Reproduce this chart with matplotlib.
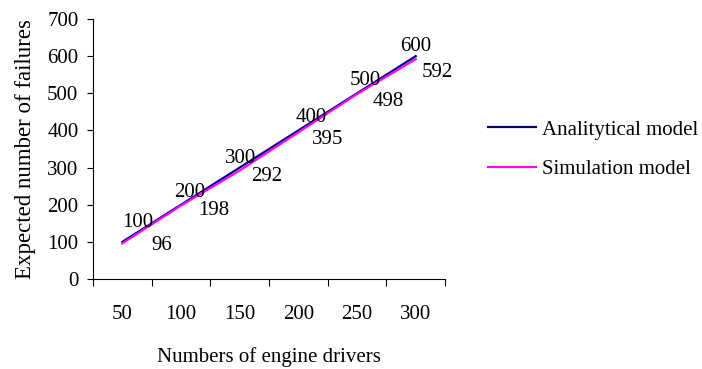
import matplotlib
matplotlib.use("Agg")
from matplotlib import pyplot as plt

# data
drivers = ["50", "100", "150", "200", "250", "300"]
analytical = [100, 200, 300, 400, 500, 600]
simulation = [96, 198, 292, 395, 498, 592]

# hand-placed label offsets (pixels) as in the original
analytical_offsets = [(15, 19), (9, 12), (1, 9), (13, 13), (8, 13), (0, 10)]
simulation_offsets = [(39, -2), (33, -5), (27, -6), (29, -7), (31, -7), (22, -13)]

plt.rcParams["font.family"] = ["Liberation Serif", "DejaVu Serif"]
plt.rcParams["font.size"] = 15

fig = plt.figure(figsize=(7.02, 3.69), dpi=100)
ax = fig.add_axes([0.1325, 0.2439, 0.5015, 0.7046])

xs = [i + 0.5 for i in range(len(drivers))]
ax.plot(xs, analytical, color="#000080", lw=1.6, label="Analitytical model")
ax.plot(xs, simulation, color="#FF00FF", lw=1.6, label="Simulation model")

for x, v, (dx, dy) in zip(xs, analytical, analytical_offsets):
    ax.annotate(str(v), (x, v), xytext=(dx, dy), textcoords="offset pixels",
                ha="center", va="center")
for x, v, (dx, dy) in zip(xs, simulation, simulation_offsets):
    ax.annotate(str(v), (x, v), xytext=(dx, dy), textcoords="offset pixels",
                ha="center", va="center")

ax.set_xlim(0, len(drivers))
ax.set_ylim(0, 700)
ax.set_yticks(range(0, 701, 100))
ax.set_xticks(range(len(drivers) + 1))
ax.set_xticklabels([""] * (len(drivers) + 1))
ax.set_xticks(xs, minor=True)
ax.set_xticklabels(drivers, minor=True)
ax.tick_params(axis="x", which="major", length=5, width=0.8, direction="out")
ax.tick_params(axis="x", which="minor", length=0, pad=19)
ax.tick_params(axis="y", length=4.5, width=0.8, pad=6)

for side in ["top", "right"]:
    ax.spines[side].set_visible(False)

ax.set_xlabel("Numbers of engine drivers", labelpad=16)
ax.set_ylabel("Expected number of failures", labelpad=8, fontsize=16.5)

fig.legend(loc="center left", bbox_to_anchor=(0.695, 0.595), frameon=False,
           borderpad=0, borderaxespad=0, handlelength=2.3, handletextpad=0.3,
           labelspacing=0.95)

fig.savefig("out.png", dpi=100)
